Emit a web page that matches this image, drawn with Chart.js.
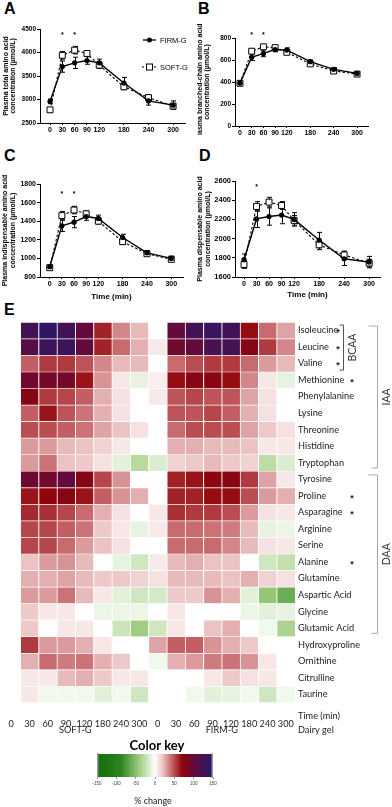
<!DOCTYPE html>
<html><head><meta charset="utf-8">
<script src="https://cdn.jsdelivr.net/npm/chart.js@4.4.1/dist/chart.umd.min.js"></script>
<style>
html,body{margin:0;padding:0;background:#fff}
body{width:392px;height:807px;position:relative;overflow:hidden}
canvas{position:absolute;display:block}
.pl{position:absolute;font:bold 16px "Liberation Sans",Arial,sans-serif;color:#000;line-height:1}
</style></head><body>
<div class="pl" style="left:4px;top:1px">A</div>
<div class="pl" style="left:198px;top:1px">B</div>
<div class="pl" style="left:4px;top:148px">C</div>
<div class="pl" style="left:199px;top:148px">D</div>
<div class="pl" style="left:4px;top:302px">E</div>
<canvas id="cA" width="196" height="135" style="left:0;top:0"></canvas>
<canvas id="cB" width="196" height="135" style="left:196px;top:0"></canvas>
<canvas id="cC" width="196" height="170" style="left:0;top:135px"></canvas>
<canvas id="cD" width="196" height="170" style="left:196px;top:135px"></canvas>
<canvas id="cE" width="392" height="807" style="left:0;top:0"></canvas>
<canvas id="cK" width="392" height="807" style="left:0;top:0"></canvas>
<script>
// ---------- Line chart data (A-D) ----------
const timePoints = [0, 30, 60, 90, 120, 180, 240, 300];

const totalFirm    = [2960, 3700, 3780, 3830, 3780, 3350, 2970, 2880];
const totalFirmErr = [50, 120, 120, 80, 80, 120, 90, 90];
const totalSoft    = [2780, 3940, 4050, 3980, 3730, 3270, 3040, 2860];
const totalSoftErr = [50, 80, 80, 50, 70, 60, 60, 50];

const bcaaFirm    = [390, 625, 660, 695, 690, 585, 515, 478];
const bcaaFirmErr = [10, 30, 30, 20, 20, 15, 15, 12];
const bcaaSoft    = [388, 680, 720, 712, 670, 565, 500, 472];
const bcaaSoftErr = [10, 22, 20, 15, 18, 15, 14, 12];

const iaaFirm    = [910, 1350, 1390, 1450, 1430, 1225, 1060, 1000];
const iaaFirmErr = [20, 60, 60, 40, 35, 35, 25, 25];
const iaaSoft    = [900, 1460, 1520, 1480, 1400, 1180, 1050, 990];
const iaaSoftErr = [20, 45, 40, 30, 30, 30, 20, 25];

const daaFirm    = [1780, 2205, 2230, 2245, 2200, 1985, 1790, 1755];
const daaFirmErr = [60, 90, 90, 90, 70, 80, 70, 60];
const daaSoft    = [1730, 2335, 2380, 2345, 2190, 1935, 1830, 1745];
const daaSoftErr = [40, 50, 50, 40, 50, 50, 40, 40];

// significance marks (time points and height in axis units)
const starsA = [30, 60], starsAy = 4415;
const starsB = [30, 60], starsBy = 845;
const starsC = [30, 60], starsCy = 1714;
const starsD = [30],     starsDy = 2558;

// ---------- Heatmap data (E), % change ----------
const colLabels = ['0','30','60','90','120','180','240','300','0','30','60','90','120','180','240','300'];
const rowNames = ['Isoleucine','Leucine','Valine','Methionine','Phenylalanine','Lysine','Threonine','Histidine','Tryptophan',
  'Tyrosine','Proline','Asparagine','Arginine','Serine','Alanine','Glutamine','Aspartic Acid','Glycine','Glutamic Acid',
  'Hydroxyproline','Ornithine','Citrulline','Taurine'];
//                  SOFT-G: 0   30   60   90  120 180 240 300 | FIRM-G: 0  30  60  90  120 180 240 300
const isoleucine     = [null,125,140,125,100, 62, 35, 22,   0,100,125,132,125, 68, 42, 28];
const leucine        = [null,110,130,130,100, 62, 42, 25,   7, 90,100,120,125, 78, 55, 35];
const valine         = [null, 45, 55, 55, 48, 35, 22, 22,   0, 42, 50, 55, 55, 42, 30, 22];
const methionine     = [null, 90, 88, 88, 66, 32,  8,-10,   6, 68, 76, 76, 68, 35,  8,-10];
const phenylalanine  = [null, 76, 55, 52, 45, 25, 10,  0,   7, 48, 52, 48, 48, 28, 10,  0];
const lysine         = [null, 45, 66, 48, 40, 25, 10,  0,   0, 48, 48, 52, 45, 25, 10,  0];
const threonine      = [null, 50, 50, 45, 40, 28, 20, 10,   0, 42, 50, 50, 50, 28, 18, 10];
const histidine      = [null, 30, 30, 22, 20, 15,  8,  0,   0, 25, 25, 22, 22, 20,  8,  8];
const tryptophan     = [null, 30, 40, 20, 18, 10,-12,-30, -15, 15, 18, 22, 18, 15,-28,-15];
const tyrosine       = [null, 92, 88,100, 76, 52, 32,  0,   0, 62, 66, 74, 76, 55, 28,  8];
const proline        = [null, 66, 70, 76, 66, 45, 32, 25,   0, 62, 62, 68, 68, 50, 30, 25];
const asparagine     = [null, 60, 58, 52, 42, 25, 10,  0,   8, 58, 55, 55, 50, 30, 10,  8];
const arginine       = [null, 52, 52, 45, 40, 18,  8,-10,   7, 42, 42, 40, 38, 22,-10, -8];
const serine         = [null, 52, 52, 42, 30, 20, 10,  0,   0, 42, 42, 42, 35, 22, 10,  8];
const alanine        = [null, 20, 30, 32, 22,  0,-10,-20,   7, 22, 25, 20, 20,  0,-20,-25];
const glutamine      = [null, 25, 25, 28, 22, 18, 18, 15,  10, 22, 22, 22, 20, 25, 15, 10];
const asparticAcid   = [null, 30, 30, 40, 22,  8,-12,-20, -18, 18, 18, 32, 25,-12,-45,-62];
const glycine        = [null, 18,  8,  8,  0, -8, -8, -8,   0,  8,  0,  0,  0, -8,-12,-10];
const glutamicAcid   = [null, 18,  0,  8,  8,  0,-22,-40, -20,  8,  0, 20, 25,  0, -6,-35];
const hydroxyproline = [null, 55, 30, 30, 25,  8,  0,  0,  28, 45, 45, 32, 25, 18,  0,  0];
const ornithine      = [null, 25, 42, 38, 40, 25, 18,  0,  -6, 25, 30, 38, 40, 32,  8,  0];
const citrulline     = [null,  8,  8, 22, 25, 18,  8,  8,   0,  0,  0,  8, 18, 10,  8,  0];
const taurine        = [null,  8, -6, -6, -6,-12, -6,-20,   0,  0, -6,-12,-10, -6,-20, -6];
const heatRows = [isoleucine,leucine,valine,methionine,phenylalanine,lysine,threonine,histidine,tryptophan,
  tyrosine,proline,asparagine,arginine,serine,alanine,glutamine,asparticAcid,glycine,glutamicAcid,
  hydroxyproline,ornithine,citrulline,taurine];

const starRowsNear = ['Isoleucine','Leucine','Valine'];
const starRowsFar  = ['Methionine','Proline','Asparagine','Alanine'];
const groups = [ {name:'IAA', from:0, to:8}, {name:'DAA', from:9, to:18} ];
const keyTicks = [-150, 150, 50];

// ---------- colour scale ----------
const keyStops = [[-150,[15,110,10]],[-90,[45,130,30]],[-40,[160,205,130]],[0,[255,255,255]],
  [20,[235,195,195]],[45,[195,95,100]],[70,[145,5,10]],[95,[105,10,55]],[150,[35,25,110]]];
function colorFor(v){
  if (v <= keyStops[0][0]) v = keyStops[0][0];
  if (v >= keyStops[keyStops.length-1][0]) v = keyStops[keyStops.length-1][0];
  for (let i=0;i<keyStops.length-1;i++){
    const [a,ca]=keyStops[i],[b,cb]=keyStops[i+1];
    if (v>=a && v<=b){
      const t=(v-a)/(b-a);
      const c=ca.map((q,k)=>Math.round(q+(cb[k]-q)*t));
      return `rgb(${c[0]},${c[1]},${c[2]})`;
    }
  }
  return '#fff';
}

Chart.defaults.font.family = '"Liberation Sans", Arial, sans-serif';
Chart.defaults.color = '#000';

// ---------- plugins ----------
const errorBars = {
  id:'errorBars',
  beforeDatasetsDraw(chart){
    const {ctx, scales:{x,y}} = chart;
    ctx.save(); ctx.strokeStyle='#000'; ctx.lineWidth=1; ctx.setLineDash([]);
    chart.data.datasets.forEach(ds=>{
      if(!ds.err) return;
      ds.data.forEach((p,i)=>{
        const px=Math.round(x.getPixelForValue(p.x))+0.5;
        const yt=y.getPixelForValue(p.y+ds.err[i]), yb=y.getPixelForValue(p.y-ds.err[i]);
        ctx.beginPath();
        ctx.moveTo(px,yt); ctx.lineTo(px,yb);
        ctx.moveTo(px-2.5,yt); ctx.lineTo(px+2.5,yt);
        ctx.moveTo(px-2.5,yb); ctx.lineTo(px+2.5,yb);
        ctx.stroke();
      });
    });
    ctx.restore();
  }
};
const starsPlugin = {
  id:'stars',
  afterDraw(chart, args, opts){
    const {ctx, scales:{x,y}} = chart;
    ctx.save(); ctx.fillStyle='#000'; ctx.font='bold 7px "Liberation Sans"';
    ctx.textAlign='center'; ctx.textBaseline='middle';
    (opts.at||[]).forEach(t=>ctx.fillText('*', x.getPixelForValue(t), y.getPixelForValue(opts.y)+2));
    ctx.restore();
  }
};
const legendPlugin = {
  id:'legendA',
  afterDraw(chart, args, opts){
    if(!opts.show) return;
    const ctx = chart.ctx;
    ctx.save();
    ctx.strokeStyle='#000'; ctx.fillStyle='#000'; ctx.lineWidth=1.3;
    ctx.beginPath(); ctx.moveTo(143,40); ctx.lineTo(156,40); ctx.stroke();
    ctx.beginPath(); ctx.arc(149.5,40,2.5,0,Math.PI*2); ctx.fill();
    ctx.lineWidth=1.1; ctx.setLineDash([2,2]);
    ctx.beginPath(); ctx.moveTo(142,67); ctx.lineTo(157,67); ctx.stroke();
    ctx.setLineDash([]); ctx.fillStyle='#fff'; ctx.lineWidth=1;
    ctx.fillRect(146.5,64,6,6); ctx.strokeRect(146.5,64,6,6);
    ctx.fillStyle='#000'; ctx.font='7.5px "Liberation Sans"'; ctx.textBaseline='middle'; ctx.textAlign='left';
    ctx.fillText('FIRM-G',160,40.5); ctx.fillText('SOFT-G',160,67.5);
    ctx.restore();
  }
};

function lineChart(id, c){
  const mk = (vals)=>timePoints.map((t,i)=>({x:t,y:vals[i]}));
  return new Chart(document.getElementById(id), {
    type:'line',
    data:{datasets:[
      {label:'FIRM-G', data:mk(c.firm), err:c.firmErr, borderColor:'#000', borderWidth:1.4,
       pointStyle:'circle', pointRadius:2.6, pointBackgroundColor:'#000', pointBorderColor:'#000', pointBorderWidth:0, tension:0, clip:false},
      {label:'SOFT-G', data:mk(c.soft), err:c.softErr, borderColor:'#000', borderWidth:1.1, borderDash:[2.5,2],
       pointStyle:'rect', pointRadius:4.2, pointBackgroundColor:'#fff', pointBorderColor:'#000', pointBorderWidth:1, tension:0, clip:false}
    ]},
    options:{
      responsive:false, animation:false, events:[],
      layout:{padding:{top:c.top, right:c.right, left:0, bottom:0}},
      plugins:{legend:{display:false}, tooltip:{enabled:false},
        stars:{at:c.stars, y:c.starY}, legendA:{show:!!c.legend}},
      scales:{
        x:{type:'linear', min:c.xmin, max:c.xmax,
           afterBuildTicks:s=>{s.ticks=timePoints.map(v=>({value:v}));},
           grid:{display:true, drawOnChartArea:false, drawTicks:true, tickLength:2, color:'#000', lineWidth:1},
           border:{display:true, color:'#000', width:1},
           ticks:{font:{size:7, weight:'bold'}, color:'#000', padding:1, maxRotation:0, autoSkip:false, callback:v=>String(v)},
           title: c.xTitle ? {display:true, text:'Time (min)', font:{size:8, weight:'bold'}, color:'#000', padding:{top:0,bottom:c.xTitlePad}} : {display:false},
           afterFit:s=>{s.height=c.xh;}},
        y:{min:c.ymin, max:c.ymax,
           ticks:{stepSize:c.ystep, font:{size:c.yfs, weight:'bold'}, color:'#000', padding:1, callback:v=>String(v)},
           grid:{display:true, drawOnChartArea:false, drawTicks:true, tickLength:3, color:'#000'},
           border:{display:true, color:'#000', width:1},
           title:{display:true, text:c.ytitle, font:{size:7, weight:'bold', lineHeight:1.1}, color:'#000', padding:{top:c.ytp,bottom:0}},
           afterFit:s=>{s.width=c.yw;}}
      }
    },
    plugins:[errorBars, starsPlugin, legendPlugin]
  });
}

lineChart('cA', {firm:totalFirm, firmErr:totalFirmErr, soft:totalSoft, softErr:totalSoftErr,
  top:29, right:11, xh:12, yw:40, xmin:-24.4, xmax:329, ymin:2500, ymax:4500, ystep:500, yfs:6.5, ytp:2,
  ytitle:['Plasma total amino acid','concentration (µmol/L)'], stars:starsA, starY:starsAy, legend:true});
lineChart('cB', {firm:bcaaFirm, firmErr:bcaaFirmErr, soft:bcaaSoft, softErr:bcaaSoftErr,
  top:38, right:24, xh:9, yw:39, xmin:-12.8, xmax:328, ymin:0, ymax:800, ystep:200, yfs:6.5, ytp:0,
  ytitle:['Plasma branched-chain amino acid','concentration (µmol/L)'], stars:starsB, starY:starsBy});
lineChart('cC', {firm:iaaFirm, firmErr:iaaFirmErr, soft:iaaSoft, softErr:iaaSoftErr,
  top:49, right:13, xh:28, yw:40, xmin:-24, xmax:329, ymin:800, ymax:1800, ystep:200, yfs:7, ytp:1.5,
  ytitle:['Plasma indispensable amino acid','concentration (µmol/L)'], stars:starsC, starY:starsCy, xTitle:true, xTitlePad:3.2});
lineChart('cD', {firm:daaFirm, firmErr:daaFirmErr, soft:daaSoft, softErr:daaSoftErr,
  top:46, right:12, xh:28, yw:39, xmin:-21.6, xmax:326, ymin:1600, ymax:2600, ystep:200, yfs:7.5, ytp:0.5,
  ytitle:['Plasma dispensable amino acid','concentration (µmol/L)'], stars:starsD, starY:starsDy, xTitle:true, xTitlePad:5});

// ---------- Heatmap ----------
const heatFont = 'Lato, "Open Sans", sans-serif';
const heatExtras = {
  id:'heatExtras',
  afterDraw(chart){
    const {ctx, scales:{x,y}, chartArea:ca} = chart;
    const rowTop=i=>y.getPixelForValue(i-0.5), rowBot=i=>y.getPixelForValue(i+0.5);
    ctx.save();
    // asterisks
    ctx.fillStyle='#222'; ctx.font='bold 9px "Liberation Sans"'; ctx.textAlign='center'; ctx.textBaseline='middle';
    starRowsNear.forEach(n=>ctx.fillText('*', ca.right+43, y.getPixelForValue(rowNames.indexOf(n))+2.5));
    starRowsFar.forEach(n=>ctx.fillText('*', ca.right+57, y.getPixelForValue(rowNames.indexOf(n))+2.5));
    // BCAA bracket
    ctx.strokeStyle='#555'; ctx.lineWidth=1;
    const bx=ca.right+48.5, bt=rowTop(0)+3, bb=rowBot(2)-1.5;
    ctx.beginPath(); ctx.moveTo(bx-4,bt); ctx.lineTo(bx,bt); ctx.lineTo(bx,bb); ctx.lineTo(bx-4,bb); ctx.stroke();
    ctx.fillStyle='#333'; ctx.font='10.5px '+heatFont;
    ctx.save(); ctx.translate(ca.right+58, (bt+bb)/2); ctx.rotate(-Math.PI/2); ctx.textAlign='center'; ctx.textBaseline='middle'; ctx.fillText('BCAA',0,0); ctx.restore();
    // IAA / DAA brackets
    ctx.strokeStyle='#aaa';
    groups.forEach(g=>{
      const gx=ca.right+82.5, gt=rowTop(g.from)+4, gb=rowBot(g.to)-3;
      ctx.beginPath(); ctx.moveTo(gx-9,gt); ctx.lineTo(gx,gt); ctx.lineTo(gx,gb); ctx.lineTo(gx-6,gb); ctx.stroke();
      ctx.save(); ctx.translate(ca.right+91.5,(gt+gb)/2); ctx.rotate(-Math.PI/2); ctx.textAlign='center'; ctx.textBaseline='middle'; ctx.fillText(g.name,0,0); ctx.restore();
    });
    // axis texts
    ctx.fillStyle='#222'; ctx.font='9.2px '+heatFont; ctx.textBaseline='middle';
    ctx.textAlign='left';
    ctx.fillText('Time (min)', ca.right+3, ca.bottom+13.5);
    ctx.fillText('Dairy gel', ca.right+3, ca.bottom+27.5);
    ctx.textAlign='center';
    ctx.fillText('SOFT-G', (x.getPixelForValue(0)+x.getPixelForValue(7))/2, ca.bottom+27.5);
    ctx.fillText('FIRM-G', (x.getPixelForValue(8)+x.getPixelForValue(15))/2, ca.bottom+27.5);
    ctx.restore();
  }
};
new Chart(document.getElementById('cE'), {
  type:'bar',
  data:{labels:colLabels, datasets:heatRows.map((vals,r)=>({
    label:rowNames[r],
    data:vals.map(v=> v===null ? null : [r-0.5, r+0.5]),
    backgroundColor:vals.map(v=> v===null ? 'rgba(0,0,0,0)' : colorFor(v)),
    borderColor:'#fff', borderWidth:{top:1,left:1,right:0,bottom:0}, borderSkipped:false,
    grouped:false, barPercentage:1, categoryPercentage:1
  }))},
  options:{
    responsive:false, animation:false, events:[],
    layout:{padding:{top:322, left:2, right:0, bottom:0}},
    plugins:{legend:{display:false}, tooltip:{enabled:false}},
    scales:{
      x:{type:'category', grid:{display:false}, border:{display:false},
         ticks:{font:{family:heatFont, size:9.2}, color:'#222', padding:8, maxRotation:0, autoSkip:false},
         afterFit:s=>{s.height=807-702.6;}},
      y:{type:'linear', position:'right', reverse:true, min:-0.5, max:22.5,
         afterBuildTicks:s=>{s.ticks=rowNames.map((_,i)=>({value:i}));},
         grid:{display:false, drawTicks:false}, border:{display:false},
         ticks:{callback:v=>rowNames[v], font:{family:heatFont, size:9.2}, color:'#222', padding:3, autoSkip:false},
         afterFit:s=>{s.width=97;}}
    }
  },
  plugins:[heatExtras]
});

// ---------- Colour key ----------
const keyPlugin = {
  id:'keyGrad',
  beforeDatasetsDraw(chart){
    const {ctx, scales:{x}, chartArea:ca} = chart;
    ctx.save();
    for(let px=Math.floor(ca.left); px<ca.right; px++){
      ctx.fillStyle=colorFor(x.getValueForPixel(px+0.5));
      ctx.fillRect(px, ca.top, 1, ca.bottom-ca.top);
    }
    ctx.fillStyle='#999';
    ctx.fillRect(ca.left, ca.top-1, 1.5, ca.bottom-ca.top+2);
    ctx.fillRect(ca.right-1.5, ca.top-1, 1.5, ca.bottom-ca.top+2);
    ctx.fillStyle='#000'; ctx.textAlign='center'; ctx.textBaseline='middle';
    ctx.font='bold 13px '+heatFont;
    ctx.fillText('Color key', (ca.left+ca.right)/2+2, ca.top-8);
    ctx.font='9px '+heatFont; ctx.fillStyle='#222';
    ctx.fillText('% change', (ca.left+ca.right)/2-2, ca.bottom+24);
    ctx.restore();
  }
};
new Chart(document.getElementById('cK'), {
  type:'scatter',
  data:{datasets:[{data:[]}]},
  options:{
    responsive:false, animation:false, events:[],
    layout:{padding:{top:754, left:97, right:392-213, bottom:0}},
    plugins:{legend:{display:false}, tooltip:{enabled:false}},
    scales:{
      x:{type:'linear', min:keyTicks[0], max:keyTicks[1], ticks:{stepSize:keyTicks[2], font:{size:4.5}, color:'#444', padding:2, maxRotation:0},
         grid:{display:true, drawOnChartArea:false, tickLength:2, color:'#999'}, border:{display:false},
         afterFit:s=>{s.height=807-777;}},
      y:{display:false, min:0, max:1}
    }
  },
  plugins:[keyPlugin]
});
</script>
</body></html>
